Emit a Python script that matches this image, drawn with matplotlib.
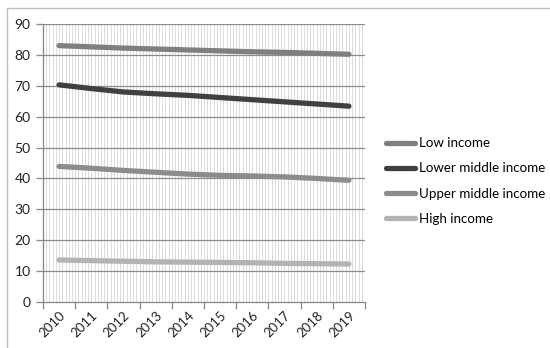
import matplotlib
matplotlib.use("Agg")
import matplotlib.pyplot as plt
from matplotlib.patches import Rectangle
import numpy as np

plt.rcParams["font.family"] = ["Lato", "DejaVu Sans"]

YEARS = ["2010", "2011", "2012", "2013", "2014", "2015", "2016", "2017", "2018", "2019"]

LOW_INCOME   = [83.0, 82.6, 82.2, 81.9, 81.6, 81.3, 81.0, 80.8, 80.5, 80.2]
LOWER_MIDDLE = [70.3, 69.1, 68.0, 67.4, 66.9, 66.2, 65.5, 64.8, 64.1, 63.4]
UPPER_MIDDLE = [43.9, 43.3, 42.6, 42.0, 41.4, 41.0, 40.8, 40.5, 40.0, 39.4]
HIGH_INCOME  = [13.6, 13.4, 13.2, 13.0, 12.9, 12.8, 12.7, 12.5, 12.4, 12.3]

SERIES = [
    ("Low income", LOW_INCOME, "#7f7f7f"),
    ("Lower middle income", LOWER_MIDDLE, "#404040"),
    ("Upper middle income", UPPER_MIDDLE, "#8c8c8c"),
    ("High income", HIGH_INCOME, "#b3b3b3"),
]

W, H = 550, 348
fig = plt.figure(figsize=(W / 100, H / 100), dpi=100)

# chart frame (only top/left edges fall inside the canvas)
fig.add_artist(Rectangle((7 / W, -0.1), 1.2, 1.1 - 7.5 / H,
                         transform=fig.transFigure, fill=False,
                         edgecolor="#bfbfbf", linewidth=1.0))

ax = fig.add_axes([43 / W, (H - 302) / H, (365 - 43) / W, (302 - 24) / H])

x = np.arange(len(YEARS))

# fine vertical gridlines
for gx in np.arange(-0.5, len(YEARS) - 0.5, 0.1)[1:]:
    ax.axvline(gx, color="#d6d6d6", linewidth=0.6, zorder=0)
for gy in range(10, 91, 10):
    ax.axhline(gy, color="#8c8c8c", linewidth=0.9, zorder=1)

for name, vals, col in SERIES:
    ax.plot(x, vals, color=col, linewidth=3.8, solid_capstyle="round",
            solid_joinstyle="round", label=name, zorder=3)

ax.set_xlim(-0.5, len(YEARS) - 0.5)
ax.set_ylim(0, 90)
ax.set_yticks(range(0, 91, 10))
ax.set_xticks(np.arange(-0.5, len(YEARS), 1.0))
ax.set_xticklabels([])
ax.set_xticks(x, minor=True)
ax.set_xticklabels(YEARS, minor=True, rotation=45, ha="right",
                   rotation_mode="anchor", fontsize=9.5, color="#222222")
ax.tick_params(axis="x", which="major", length=5, color="#868686", width=0.9)
ax.tick_params(axis="x", which="minor", length=0, pad=5)
ax.tick_params(axis="y", length=5, color="#868686", width=0.9, pad=4,
               labelsize=10, labelcolor="#222222")

for side in ["top", "right"]:
    ax.spines[side].set_visible(False)
for side in ["left", "bottom"]:
    ax.spines[side].set_color("#868686")
    ax.spines[side].set_linewidth(0.9)

fig.legend(loc="center left", bbox_to_anchor=(386 / W, 1 - 181 / H),
           frameon=False, fontsize=9.6, handlelength=2.2, handletextpad=0.25,
           labelspacing=0.98, borderaxespad=0, borderpad=0)

fig.savefig("out.png", dpi=100)
